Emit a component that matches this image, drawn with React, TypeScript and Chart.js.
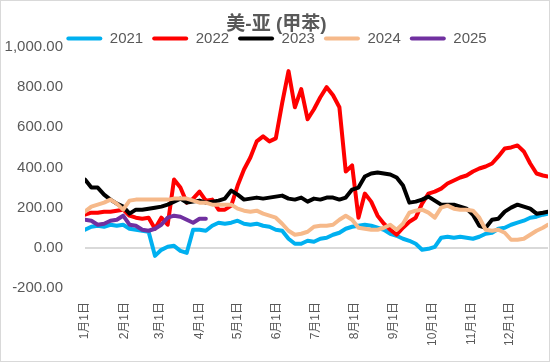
import React, { useEffect, useRef } from "react";
import { Chart, registerables } from "chart.js";

Chart.register(...registerables);

const TITLE = "美-亚 (甲苯)";
const monthLabels = ["1月1日", "2月1日", "3月1日", "4月1日", "5月1日", "6月1日", "7月1日", "8月1日", "9月1日", "10月1日", "11月1日", "12月1日"];
const monthStartDays = [0, 31, 59, 90, 120, 151, 181, 212, 243, 273, 304, 334];
const yTickValues = [-200, 0, 200, 400, 600, 800, 1000];

// day of year for each sample (every 5 days)
const days = [0, 5, 10, 15, 20, 25, 30, 35, 40, 45, 50, 55, 60, 65, 70, 75, 80, 85, 90, 95, 100, 105, 110, 115, 120, 125, 130, 135, 140, 145, 150, 155, 160, 165, 170, 175, 180, 185, 190, 195, 200, 205, 210, 215, 220, 225, 230, 235, 240, 245, 250, 255, 260, 265, 270, 275, 280, 285, 290, 295, 300, 305, 310, 315, 320, 325, 330, 335, 340, 345, 350, 355, 360, 364];

const v2021 = [90, 105, 110, 105, 115, 110, 115, 95, 90, 85, 80, -40, -10, 5, 10, -15, -25, 90, 90, 85, 110, 125, 120, 125, 135, 120, 115, 120, 110, 105, 90, 85, 45, 20, 20, 35, 30, 45, 50, 65, 75, 95, 105, 110, 115, 110, 100, 90, 70, 60, 45, 35, 20, -10, -5, 5, 50, 55, 50, 55, 50, 45, 55, 70, 75, 95, 100, 115, 125, 135, 150, 155, 165, 170];
const v2022 = [165, 175, 175, 180, 180, 185, 190, 160, 150, 145, 150, 95, 150, 115, 340, 300, 225, 245, 280, 235, 240, 190, 190, 210, 310, 390, 450, 530, 555, 530, 545, 720, 880, 700, 790, 640, 690, 750, 800, 760, 700, 380, 410, 150, 270, 230, 160, 120, 90, 65, 100, 130, 150, 220, 270, 280, 295, 320, 335, 350, 360, 380, 395, 405, 420, 455, 495, 500, 510, 480, 420, 370, 360, 355];
const v2023 = [340, 300, 300, 265, 240, 220, 205, 170, 190, 190, 195, 200, 205, 215, 230, 245, 225, 230, 235, 225, 230, 235, 245, 285, 265, 240, 245, 250, 245, 250, 255, 260, 245, 240, 250, 230, 245, 240, 250, 250, 240, 250, 290, 300, 355, 370, 375, 370, 365, 350, 310, 225, 230, 240, 255, 235, 215, 215, 215, 205, 195, 165, 110, 100, 140, 145, 180, 200, 215, 205, 195, 170, 175, 180];
const v2024 = [180, 205, 215, 225, 240, 220, 190, 235, 240, 240, 240, 240, 240, 240, 245, 245, 245, 235, 225, 225, 215, 215, 215, 215, 195, 185, 180, 185, 170, 160, 150, 120, 85, 65, 70, 80, 105, 110, 110, 115, 140, 160, 140, 100, 95, 90, 90, 100, 115, 90, 120, 175, 185, 190, 175, 150, 200, 210, 195, 190, 190, 185, 150, 90, 85, 90, 75, 40, 40, 45, 65, 85, 100, 115];
const v2025 = [140, 135, 115, 120, 135, 140, 160, 115, 110, 90, 85, 95, 115, 150, 160, 155, 140, 125, 145, 145];

const seriesNames = ["2021", "2022", "2023", "2024", "2025"];
const seriesValues = [v2021, v2022, v2023, v2024, v2025];
const seriesColors = ["#00B0F0", "#FF0000", "#000000", "#F6B98A", "#7030A0"];

const TEXT = "#595959";
const FONT = "'Liberation Sans', 'Noto Sans CJK SC', sans-serif";

// lets the legend sit tight against the plot, as in the reference
const legendTighten = {
  id: "legendTighten",
  afterInit(chart: any) {
    const lg = chart.legend;
    if (!lg) return;
    const orig = lg.fit.bind(lg);
    lg.fit = function () {
      orig();
      this.height = Math.max(0, this.height - 9);
    };
  },
};

export default function App() {
  const ref = useRef<HTMLCanvasElement | null>(null);

  useEffect(() => {
    if (!ref.current) return;
    const datasets = seriesNames.map((name, si) => ({
      label: name,
      data: seriesValues[si].map((v, i) => ({ x: days[i], y: v })),
      borderColor: seriesColors[si],
      backgroundColor: seriesColors[si],
      borderWidth: 4,
      borderJoinStyle: "round" as const,
      borderCapStyle: "round" as const,
      pointRadius: 0,
      tension: 0,
      order: seriesNames.length - si,
    }));
    const chart = new Chart(ref.current, {
      type: "line",
      data: { datasets },
      plugins: [legendTighten],
      options: {
        animation: false,
        responsive: false,
        layout: { padding: { left: 4, right: 1, top: 0, bottom: 1 } },
        plugins: {
          title: {
            display: true,
            text: TITLE,
            color: TEXT,
            font: { family: FONT, size: 19, weight: "bold" },
            padding: { top: 12, bottom: -13.8 },
          },
          legend: {
            display: true,
            labels: {
              color: TEXT,
              font: { family: FONT, size: 15 },
              boxWidth: 36,
              boxHeight: 4,
              padding: 9,
              useBorderRadius: true,
              borderRadius: 2,
              sort: (a: any, b: any) => a.datasetIndex - b.datasetIndex,
              generateLabels: (c: any) =>
                c.data.datasets.map((d: any, i: number) => ({
                  text: d.label,
                  fillStyle: d.borderColor,
                  strokeStyle: d.borderColor,
                  lineWidth: 0,
                  hidden: false,
                  datasetIndex: i,
                  fontColor: TEXT,
                  borderRadius: 2,
                })),
            },
          },
          tooltip: { enabled: false },
        },
        scales: {
          x: {
            type: "linear",
            min: 0,
            max: 364,
            border: { display: false },
            grid: { display: false, drawTicks: false },
            afterBuildTicks: (scale: any) => {
              scale.ticks = monthStartDays.map((d) => ({ value: d }));
            },
            ticks: {
              autoSkip: false,
              minRotation: 90,
              maxRotation: 90,
              padding: 14,
              color: TEXT,
              font: { family: FONT, size: 12 },
              callback: (_v: any, i: number) => monthLabels[i],
            },
          },
          y: {
            type: "linear",
            min: -200,
            max: 1000,
            border: { display: false },
            afterBuildTicks: (scale: any) => {
              scale.ticks = yTickValues.map((v) => ({ value: v }));
            },
            afterFit: (scale: any) => {
              scale.width = 80;
            },
            grid: {
              drawTicks: false,
              lineWidth: 2,
              color: (ctx: any) => (ctx.tick && ctx.tick.value === 0 ? "#D9D9D9" : "rgba(0,0,0,0)"),
            },
            ticks: {
              padding: 22,
              color: TEXT,
              font: { family: FONT, size: 15 },
              callback: (v: any) =>
                Number(v).toLocaleString("en-US", { minimumFractionDigits: 2, maximumFractionDigits: 2 }),
            },
          },
        },
      },
    });
    return () => chart.destroy();
  }, []);

  return (
    <div
      style={{
        position: "fixed",
        left: 0,
        top: 0,
        width: 550,
        height: 362,
        boxSizing: "border-box",
        border: "1px solid #D9D9D9",
        background: "#FFFFFF",
      }}
    >
      <canvas ref={ref} width={548} height={360} style={{ display: "block" }} />
    </div>
  );
}
